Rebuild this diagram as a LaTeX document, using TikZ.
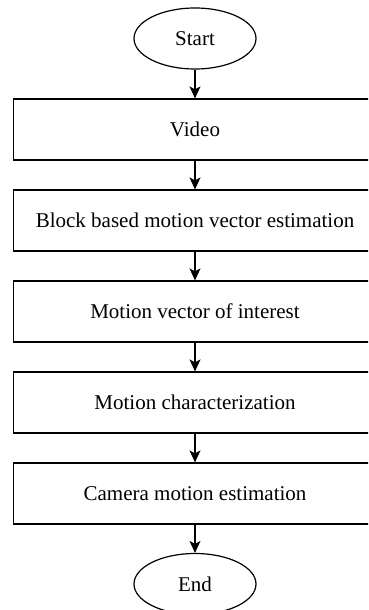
\documentclass[tikz,border=0pt]{standalone}
\usepackage{fontspec}
\setmainfont{Liberation Serif}
\usetikzlibrary{shapes.geometric,arrows.meta}
\begin{document}
\begin{tikzpicture}[x=1pt,y=-1pt,
  stepbox/.style={draw=black,line width=1.2pt,rectangle,minimum width=363pt,minimum height=61pt,inner sep=0pt,font=\fontsize{21}{24}\selectfont},
  termnode/.style={draw=black,line width=1.2pt,ellipse,minimum width=122pt,minimum height=61pt,inner sep=0pt,font=\fontsize{21}{24}\selectfont},
  flow/.style={draw=black,line width=1.2pt,-{Stealth[length=12pt,width=11pt,inset=3pt]}}]
\useasboundingbox (0,0) rectangle (368,610);
\fill[white] (0,0) rectangle (368,610);
\clip (0,0) rectangle (368,610);
\node[termnode] (start) at (195,38.5) {Start};
\node[stepbox] (video) at (195,129.5) {Video};
\node[stepbox] (block) at (195,220.5) {Block based motion vector estimation};
\node[stepbox] (mvi) at (195,311.5) {Motion vector of interest};
\node[stepbox] (mc) at (195,402.5) {Motion characterization};
\node[stepbox] (cam) at (195,493.5) {Camera motion estimation};
\node[termnode] (end) at (195,584) {End};
\draw[flow] (start) -- (video);
\draw[flow] (video) -- (block);
\draw[flow] (block) -- (mvi);
\draw[flow] (mvi) -- (mc);
\draw[flow] (mc) -- (cam);
\draw[flow] (cam) -- (end);
\end{tikzpicture}
\end{document}
